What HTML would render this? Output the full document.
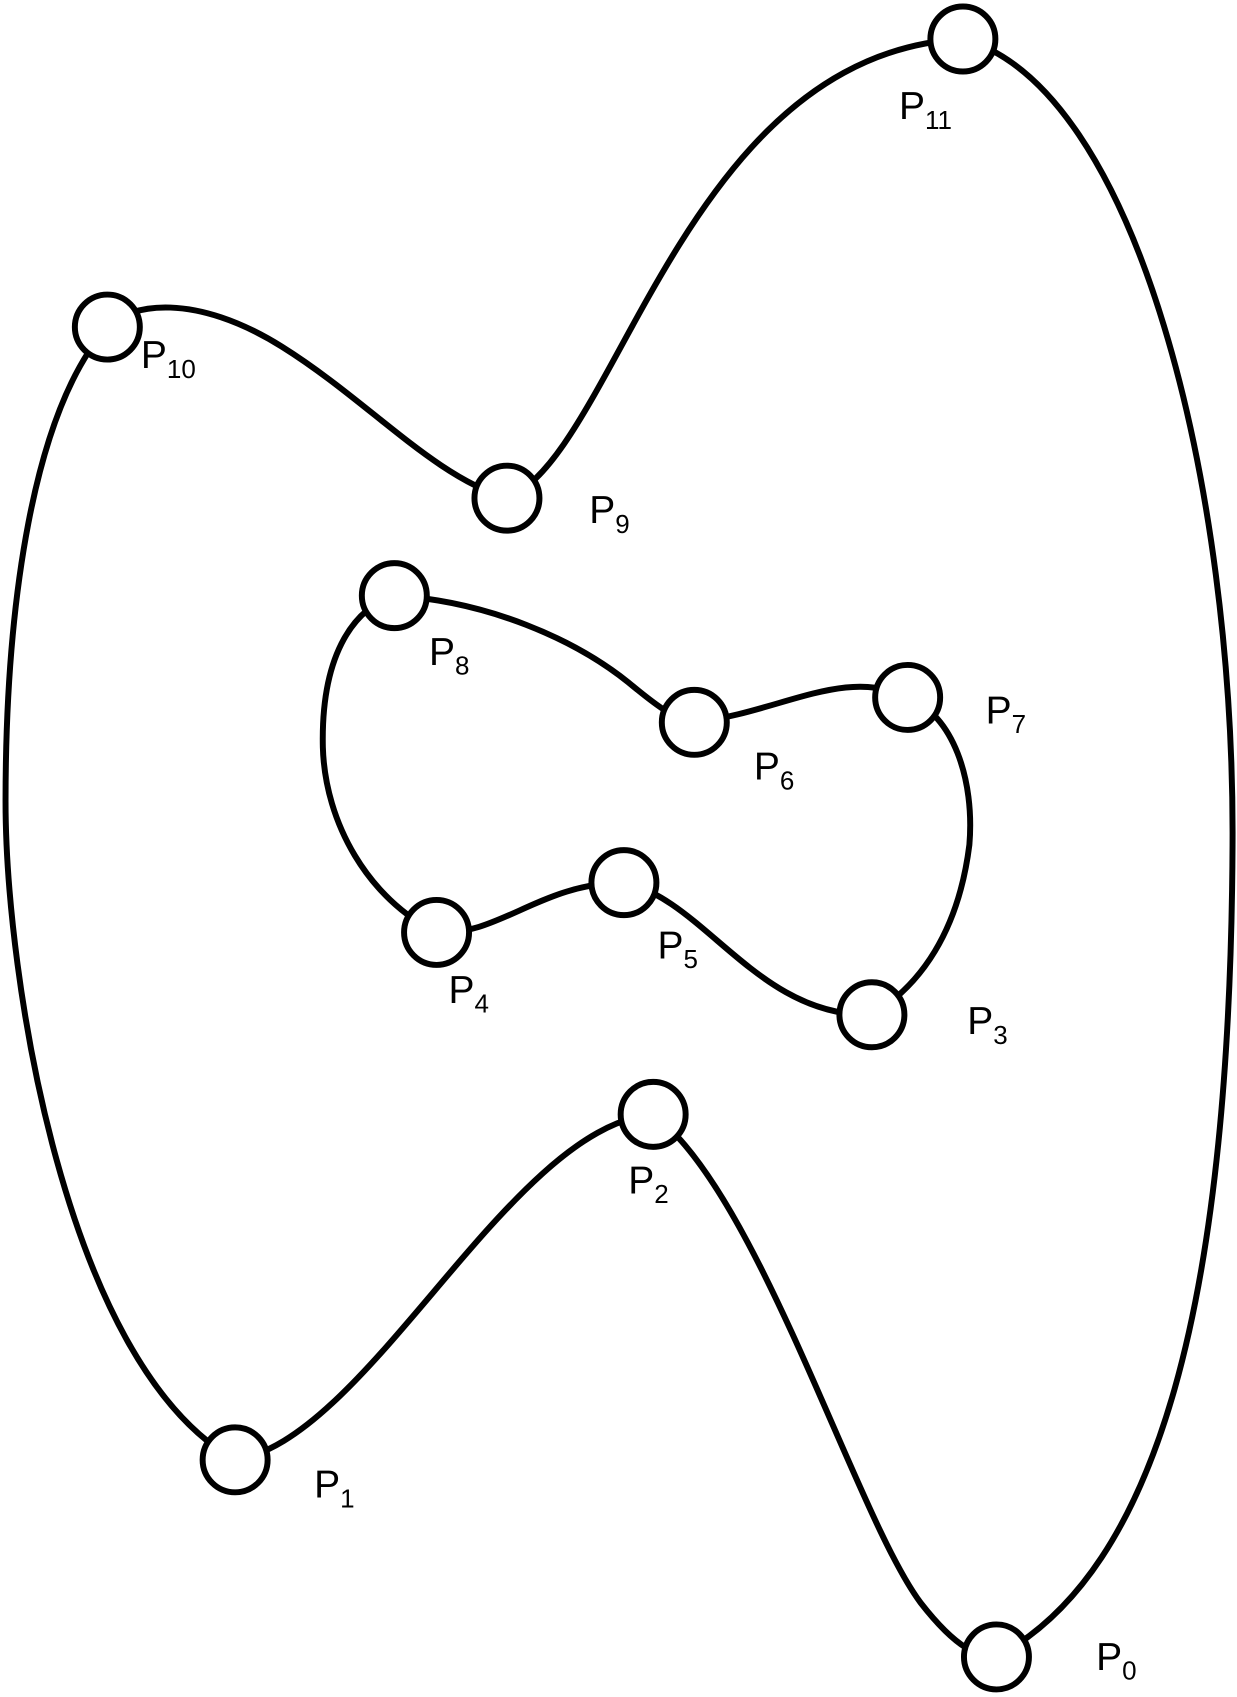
<!DOCTYPE html>
<html><head><meta charset="utf-8"><style>
html,body{margin:0;padding:0;background:#fff}
svg{display:block}
text{font-family:"Liberation Sans",sans-serif;font-size:36px;fill:#000}
</style></head><body>
<svg id="chart" width="1237" height="1697" viewBox="0 0 1142 1567" xmlns="http://www.w3.org/2000/svg">
<g id="curves" fill="none" stroke="#000" stroke-width="5.5"></g>
<g id="nodes"></g>
<g id="labels"></g>
</svg>
<script>
const pointX=[920,217,603,805,403,576,641,838,364,468,99,889];
const pointY=[1530,1348,1029,937,861,815,667,644,550,460,302,36];
const labelIdx=["0","1","2","3","4","5","6","7","8","9","10","11"];
const labelX=[1012,290,580,893,414,607,696,910,396,544,130,830];
const labelY=[1542,1383,1102,955,926,885,720,668,614,483,340,110];
const segments=[
"M603,1029 C700,1100 790,1400 850,1480 C885,1525 905,1530 920,1530",
"M217,1348 C340,1330 470,1040 603,1029",
"M217,1348 C60,1260 5,900 5,740 C5,560 30,380 99,302",
"M99,302 C120,280 180,270 260,320 C340,370 400,440 468,460",
"M468,460 C570,420 630,50 889,36",
"M889,36 C1050,80 1140,450 1138,780 C1136,1200 1070,1450 920,1530",
"M364,550 C450,555 530,590 580,630 C610,655 625,665 641,667",
"M641,667 C720,658 780,615 838,644",
"M838,644 C880,660 900,720 895,780 C885,860 850,910 805,937",
"M805,937 C700,940 650,830 576,815",
"M576,815 C500,815 460,865 403,861",
"M403,861 C340,830 300,760 298,690 C296,600 330,560 364,550"
];
const NS="http://www.w3.org/2000/svg";
const gc=document.getElementById('curves'),gn=document.getElementById('nodes'),gl=document.getElementById('labels');
segments.forEach((d,i)=>{
 const p=document.createElementNS(NS,'path');p.setAttribute('d',d);
 
 
 gc.appendChild(p);
});
pointX.forEach((x,i)=>{
 const c=document.createElementNS(NS,'circle');
 c.setAttribute('cx',x);c.setAttribute('cy',pointY[i]);c.setAttribute('r',30);
 c.setAttribute('fill','#fff');c.setAttribute('stroke','#000');c.setAttribute('stroke-width','5.5');
 
 
 gn.appendChild(c);
 const t=document.createElementNS(NS,'text');
 t.setAttribute('x',labelX[i]);t.setAttribute('y',labelY[i]);
 
 
 t.textContent='P';
 const s=document.createElementNS(NS,'tspan');
 s.setAttribute('dy','9');s.setAttribute('font-size','24');
 s.textContent=labelIdx[i];
 t.appendChild(s);
 gl.appendChild(t);
});
</script>
</body></html>
